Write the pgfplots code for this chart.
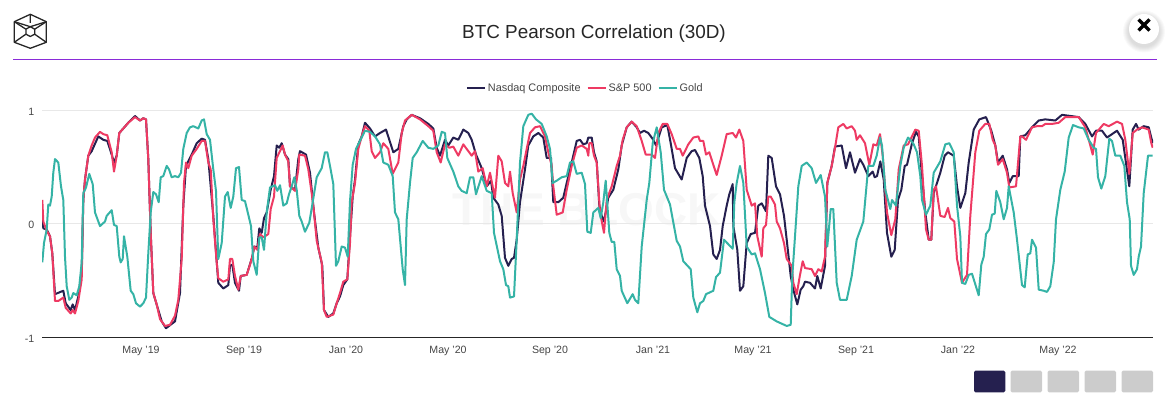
\documentclass[border=0pt]{standalone}
\usepackage{pgfplots}
\usepackage{pgfplotstable}
\usepackage{fontspec}
\setmainfont{Liberation Sans}
\pgfplotsset{compat=1.18}
\definecolor{navy}{HTML}{25204F}
\definecolor{spred}{HTML}{EE3A63}
\definecolor{goldt}{HTML}{35B3A6}
\definecolor{gridc}{HTML}{E8E8E8}
\definecolor{txt}{HTML}{454545}
\definecolor{purp}{HTML}{8A2BD8}
\definecolor{btn}{HTML}{CCCCCC}
\definecolor{wm}{HTML}{F7F7F7}
\pgfplotstableread{
x y
42.3 0.10
43.3 -0.04
46.7 -0.05
50 -0.11
52.3 -0.26
55 -0.62
63.3 -0.59
65.7 -0.70
70.7 -0.76
72.7 -0.71
75 -0.76
78.3 -0.64
81.7 -0.43
83.3 0.21
85 0.39
88.3 0.60
91.7 0.64
98.3 0.77
103.3 0.74
107.3 0.73
111.7 0.61
114 0.54
116.7 0.60
119.3 0.80
123.3 0.84
128.3 0.89
135 0.95
140 0.91
143.3 0.93
146 0.92
148.3 0.57
150.7 -0.08
153.3 -0.61
158.3 -0.76
161.7 -0.86
166 -0.92
175 -0.86
180 -0.61
183.3 0.16
186 0.51
191.7 0.61
196.7 0.71
201.7 0.75
205 0.74
208.3 0.57
213.3 0.07
218.3 -0.52
223.3 -0.57
228.3 -0.54
230 -0.37
232.3 -0.36
235 -0.52
239 -0.59
240.7 -0.46
246.7 -0.45
252.3 -0.29
254.3 -0.20
257.3 -0.21
259.3 -0.04
261.7 -0.08
264 0.05
266.7 0.10
270.7 0.30
274 0.42
276.7 0.69
279.3 0.67
281.7 0.71
285 0.61
288.3 0.57
290 0.33
295 0.30
298.3 0.57
300 0.64
306 0.61
310 0.45
314 0.10
318.3 -0.21
322.3 -0.37
324 -0.76
328.3 -0.82
333.3 -0.79
336.7 -0.70
340 -0.64
343.3 -0.54
347.3 -0.49
350 -0.11
352.7 0.24
355 0.39
358.3 0.70
361.7 0.77
365 0.89
370 0.84
375 0.77
380 0.80
386 0.83
389.3 0.74
393.3 0.63
398.3 0.66
403.3 0.86
406.7 0.92
411.7 0.96
420 0.93
428.3 0.88
433.3 0.84
436.7 0.67
440 0.60
445 0.74
448.3 0.69
453.3 0.76
458.3 0.74
463.3 0.83
468.3 0.80
471.7 0.74
476 0.61
481.7 0.49
486.7 0.33
491 0.38
493.3 0.23
498.3 0.17
501.7 0.07
505 -0.30
508.3 -0.37
511.7 -0.31
514 -0.30
516.7 -0.14
520 0.19
525 0.48
528.3 0.69
533.3 0.77
538.3 0.80
543.3 0.76
546.7 0.58
551 0.58
553.3 0.19
558.3 0.19
563.3 0.23
566.7 0.36
571.7 0.54
576.7 0.73
580 0.74
583.3 0.70
586.7 0.71
588.3 0.76
591.7 0.76
594 0.63
596.7 0.55
599.3 0.16
601.7 0.07
604 0.02
608.3 0.23
613.3 0.30
618.3 0.48
621.7 0.69
626.7 0.85
631.7 0.90
636.7 0.85
640 0.80
644 0.82
648.3 0.80
653.3 0.74
656 0.69
661.7 0.85
667.3 0.87
670.7 0.71
675 0.49
681.7 0.39
686.7 0.58
691.7 0.64
695 0.65
699.3 0.58
702.7 0.42
705 0.16
710 -0.02
713.3 -0.27
716.7 -0.31
720 -0.23
722.7 -0.02
726.7 0.16
729.3 0.26
732.7 0.35
733.3 -0.02
737.3 -0.23
740 -0.59
743.3 -0.55
746.7 -0.17
750.7 -0.09
755 -0.08
758.3 0.16
761.7 0.18
766 0.11
768.3 0.60
771.7 0.58
776 0.33
780 0.26
784 0.07
786.7 -0.14
790.7 -0.46
793.3 -0.58
797.3 -0.71
800.7 -0.58
803.3 -0.55
805 -0.51
810 -0.52
815 -0.57
817.3 -0.46
820.7 -0.57
825 -0.37
827.3 0.36
831.7 0.51
835 0.68
841.7 0.69
846 0.49
850 0.63
855 0.45
860 0.57
863.3 0.52
868.3 0.42
872.7 0.46
874.7 0.41
877 0.42
880.3 0.55
883.7 0.39
887 -0.08
891.3 -0.29
894.7 -0.23
898 0.21
901.3 0.30
904.7 0.51
907 0.52
912 0.71
916 0.81
918.7 0.77
922 0.42
925.3 0.10
928.7 -0.14
931.3 -0.14
933.7 0.27
937 0.36
940.3 0.45
944.7 0.60
948 0.63
953.7 0.60
957 0.33
960.3 0.14
965.3 0.27
968.7 0.54
973.7 0.83
979.3 0.92
986 0.94
991.3 0.82
995.3 0.69
998 0.54
1002.7 0.60
1007 0.48
1009.3 0.36
1012.7 0.42
1018.7 0.42
1020.3 0.77
1025.3 0.78
1032 0.85
1038.7 0.91
1045.3 0.92
1055.3 0.91
1062 0.96
1078.7 0.94
1085.3 0.88
1092 0.77
1096 0.82
1102 0.82
1107 0.76
1117 0.82
1122.7 0.74
1129.3 0.33
1132.7 0.83
1136 0.88
1138.7 0.83
1143.7 0.86
1148.7 0.85
1152.7 0.71
}\nasdaq
\pgfplotstableread{
x y
42.3 0.21
43.3 0.02
46.7 -0.06
50 -0.11
52.3 -0.26
55 -0.68
58.3 -0.68
63.3 -0.65
65.7 -0.74
70.7 -0.79
72.7 -0.76
75 -0.79
78.3 -0.68
81.7 -0.49
83.3 0.21
85 0.39
88.3 0.60
91.7 0.69
95 0.76
100 0.81
103.3 0.79
107.3 0.78
111.7 0.63
114 0.46
116.7 0.60
119.3 0.80
123.3 0.84
128.3 0.89
135 0.94
140 0.91
143.3 0.93
146 0.92
148.3 0.57
150.7 -0.08
153.3 -0.61
156.7 -0.71
160 -0.84
165 -0.90
170 -0.89
175 -0.81
178.3 -0.67
181.7 -0.31
184 0.36
186 0.54
188.3 0.49
191.7 0.60
196.7 0.66
201.7 0.73
205 0.73
208.3 0.54
210.7 0.48
213.3 0.04
216.7 -0.34
218.3 -0.48
223.3 -0.51
228.3 -0.49
230 -0.31
232.3 -0.31
235 -0.46
238.3 -0.58
240.7 -0.46
246.7 -0.45
250 -0.36
252.3 -0.29
254.3 -0.20
257.3 -0.23
260 -0.09
263.3 -0.12
268.3 -0.09
270.7 0.13
274 0.24
276.7 0.58
282.7 0.69
285 0.61
288.3 0.55
290 0.33
295 0.29
298.3 0.48
299.3 0.61
305 0.60
308.3 0.48
311.7 0.27
314 0.10
316.7 -0.15
321.7 -0.34
324 -0.76
326.7 -0.82
333.3 -0.80
336.7 -0.70
340 -0.61
343.3 -0.51
347.3 -0.49
350 -0.17
351.7 0.19
355 0.36
358.3 0.66
361.7 0.77
365 0.86
369.3 0.82
371.7 0.64
375 0.58
380 0.63
383.3 0.71
388.3 0.66
392.7 0.44
398.3 0.54
401.7 0.80
405 0.91
411.7 0.96
420 0.92
428.3 0.86
433.3 0.82
436.7 0.63
440.7 0.54
445 0.70
449.3 0.67
453.3 0.68
458.3 0.60
463.3 0.70
468.3 0.64
471.7 0.60
475 0.64
478.3 0.46
482.7 0.49
486.7 0.33
490 0.45
493.3 0.30
495 0.23
498.3 0.60
501.7 0.55
505 0.36
508.3 0.33
510 0.46
512.7 0.27
516.7 0.10
520 0.39
523.3 0.51
526.7 0.66
530 0.80
535 0.85
540 0.86
545 0.77
548.3 0.63
551.7 0.51
553.3 0.33
556.7 0.08
562.7 0.10
566.7 0.30
571.7 0.51
576.7 0.67
581.7 0.69
586.7 0.66
588.3 0.60
589.3 0.71
591.7 0.71
594 0.60
596.7 0.54
600 0.10
604 -0.08
606.7 0.21
611.7 0.33
616.7 0.51
620 0.60
622.7 0.74
626.7 0.85
631.7 0.90
636.7 0.86
641.7 0.73
645.7 0.61
651.7 0.61
655 0.58
658.3 0.80
662.7 0.88
667.3 0.88
671.7 0.79
676.7 0.66
680 0.66
682.7 0.60
688.3 0.70
693.3 0.76
698.3 0.77
700 0.73
703.3 0.73
706 0.61
709.3 0.63
713.3 0.52
716.7 0.43
721.7 0.60
726.7 0.79
732.7 0.80
736 0.76
739.3 0.83
743.3 0.73
746.7 0.30
751.7 0.16
755 0.18
757.3 -0.11
761.7 -0.29
763.3 -0.04
766 -0.01
768.3 0.24
770.7 0.24
775 0.17
776.7 0.02
780 -0.04
784 -0.17
786.7 -0.31
791.7 -0.37
793.3 -0.52
796.7 -0.62
800 -0.45
802.7 -0.33
805 -0.39
811.7 -0.40
815 -0.46
818.3 -0.40
821.7 -0.42
825 -0.29
827.3 0.36
831.7 0.51
835 0.67
838.3 0.85
843.3 0.88
846.7 0.84
851.7 0.86
855 0.82
856.7 0.74
860 0.78
865 0.71
869.3 0.52
873.3 0.70
876.7 0.69
880 0.79
882.7 0.60
887 0.10
891.3 -0.10
895.3 0.04
898.7 0.48
903.7 0.69
908 0.70
912 0.77
915.3 0.83
918.7 0.82
922 0.51
926 -0.05
928.7 -0.14
931.3 -0.14
933.7 0.30
936 0.33
940.3 0.07
944.7 0.06
948 0.14
950.3 0.05
954.3 0.02
957 -0.31
962 -0.52
967 -0.45
970.3 0.07
975.3 0.63
979.3 0.82
985.3 0.88
989.3 0.88
992.7 0.74
995.3 0.69
998 0.52
1002.7 0.57
1007 0.45
1009.3 0.32
1016 0.33
1020.3 0.77
1022 0.77
1026 0.74
1032 0.85
1037 0.86
1042 0.86
1045.3 0.88
1052 0.88
1058.7 0.89
1065.3 0.94
1078.7 0.94
1085.3 0.85
1090.3 0.69
1092.7 0.61
1096 0.80
1103.7 0.88
1108.7 0.86
1117 0.90
1122 0.88
1125.3 0.74
1129.3 0.44
1132.7 0.80
1137 0.83
1142 0.85
1148.7 0.83
1151.3 0.71
1152.7 0.67
}\spx
\pgfplotstableread{
x y
42.3 -0.34
44 -0.17
46.7 -0.05
48.3 0.17
50 0.16
51.7 0.24
53.3 0.45
55 0.57
58.3 0.54
61 0.33
63.3 0.21
65 -0.29
66.7 -0.55
69.3 -0.67
71.7 -0.65
73.3 -0.61
76.7 -0.63
79.3 -0.55
81.7 -0.34
83.3 0.27
86 0.32
89.3 0.44
92.7 0.35
95 0.10
100 -0.02
105 0.02
106.7 0.07
111.7 0.12
114 -0.01
116.7 -0.02
119.3 -0.29
120.7 -0.34
122.7 -0.31
124 -0.11
127.3 -0.29
130.7 -0.59
133.3 -0.62
136 -0.70
140 -0.73
143.3 -0.70
146 -0.65
148.3 -0.26
150.7 0.10
153.3 0.28
156 0.26
158.7 0.19
160.7 0.41
163.3 0.42
166.7 0.51
169 0.48
171.7 0.41
175 0.42
178.3 0.41
181 0.45
183.3 0.66
186.7 0.80
190 0.85
193.3 0.86
198.3 0.84
201.7 0.91
204 0.92
206.7 0.79
210 0.74
213.3 0.48
216 0.29
218.3 -0.31
221.7 -0.17
225 0.24
227.7 0.28
230.7 0.14
233.3 0.24
236 0.49
239 0.50
241.7 0.21
245 0.20
248.3 0.08
251 -0.02
253.3 -0.33
256.7 -0.45
259.3 -0.12
261.7 -0.12
264 -0.23
266.7 0.10
270 0.32
275 0.34
277.3 0.29
280 0.34
283.3 0.16
286.7 0.18
289 0.26
291.7 0.33
294.3 0.41
296.7 0.30
299.3 0.07
301.7 0.02
305 -0.07
309.3 0.01
312.7 0.19
316.7 0.41
321.7 0.49
325 0.63
327.3 0.63
330 0.51
333.3 0.35
336 -0.37
338.3 -0.33
341.7 -0.20
345 -0.21
347.7 -0.29
350 0.20
352.7 0.52
356 0.66
360 0.73
365 0.82
370 0.81
375 0.77
380 0.70
383.3 0.54
388.3 0.52
392.7 0.42
395 0.10
398.3 0.04
402.7 -0.40
405 -0.54
406.7 0.04
410 0.36
412.7 0.58
416.7 0.63
422.7 0.73
428.3 0.67
433.3 0.66
438.3 0.69
441.7 0.81
445 0.80
447.3 0.58
453.3 0.46
458.3 0.33
461.7 0.29
466.7 0.27
470 0.41
473.3 0.41
476 0.26
481.7 0.42
486.7 0.29
491.7 0.27
494 -0.08
500 -0.33
503.3 -0.40
506 -0.54
508.3 -0.55
510 -0.65
514 -0.64
516.7 -0.14
520 0.54
523.3 0.86
528.3 0.96
531.7 0.97
536 0.92
541.7 0.88
546.7 0.77
550 0.66
552.7 0.36
556.7 0.38
561.7 0.41
566.7 0.42
570 0.54
573.3 0.55
576.7 0.44
581.7 0.45
585 0.35
587.3 -0.07
590.7 -0.08
593.3 0.10
598.3 0.14
600.7 0.05
603.3 0.19
605.7 0.38
609.3 -0.08
611.7 -0.16
614.3 -0.16
616.7 -0.40
620 -0.46
621.7 -0.59
627.3 -0.70
632.7 -0.62
635 -0.67
638.3 -0.70
641.7 -0.20
646.7 0.21
649.3 0.36
652.7 0.71
656.7 0.85
660.7 0.63
664 0.30
670 0.17
676.7 -0.15
680 -0.20
683.3 -0.33
690.7 -0.40
693.3 -0.65
697.3 -0.78
700 -0.70
703.3 -0.68
706 -0.62
713.3 -0.59
716 -0.47
720 -0.43
724 -0.14
728.3 -0.18
732.7 -0.22
734.3 0.19
736.7 0.36
740 0.51
743.3 0.36
746.7 -0.20
751.7 -0.27
755 -0.26
760 -0.40
765 -0.61
769.3 -0.82
776.7 -0.86
786.7 -0.90
790.7 -0.89
792.3 -0.46
795 -0.11
798.3 0.33
801.7 0.51
806.7 0.54
811.7 0.49
816 0.36
820.7 0.43
825 0.24
827.3 -0.20
830.7 0.13
833.3 0.13
836.7 -0.52
840 -0.67
846.7 -0.67
851.7 -0.46
856.7 -0.14
863.3 0.02
868.3 0.51
873.3 0.51
876.7 0.60
880 0.76
882 0.69
885.3 0.30
890.3 0.13
892 0.21
896 0.16
900.3 0.51
903.7 0.67
908 0.76
910.3 0.74
913.7 0.70
917 0.63
920.3 0.42
922 0.21
926 0.08
930.3 0.16
933.7 0.45
940.3 0.55
945.3 0.70
949.3 0.71
953.7 0.63
957 0.16
960.3 -0.11
962 -0.52
965.3 -0.53
968.7 -0.45
972 -0.44
978.7 -0.63
981.3 -0.36
983.7 -0.29
986 -0.09
989.3 -0.05
992 0.08
994.7 0.09
996.3 0.29
1000.3 0.19
1003.7 0.04
1007 0.14
1008.7 0.33
1013.7 0.10
1017 -0.14
1022 -0.54
1024.7 -0.56
1027.7 -0.27
1030.3 -0.26
1032 -0.14
1036 -0.21
1038.7 -0.58
1043.7 -0.59
1047 -0.60
1050.3 -0.55
1053.7 -0.34
1056 0.04
1060.3 0.30
1064.7 0.46
1068.7 0.76
1073 0.87
1078.7 0.85
1083.7 0.84
1088.7 0.74
1093.7 0.67
1096 0.66
1098 0.41
1101.3 0.31
1105.3 0.42
1109.3 0.75
1112 0.73
1115.3 0.60
1120.3 0.60
1124.3 0.51
1127 0.19
1129.7 0.04
1131 -0.37
1133.7 -0.45
1137 -0.40
1138.7 -0.29
1141 -0.20
1143.7 0.27
1148 0.60
1152.7 0.60
}\gold
\begin{document}
\begin{tikzpicture}[x=1pt,y=1pt]
\useasboundingbox (0,0) rectangle (1172,403);
% watermark
\node[text=wm,font=\fontsize{46}{50}\selectfont\bfseries,anchor=center] at (587,193) {THE BLOCK};
% header
\node[text=black!85,font=\fontsize{18.9}{22}\selectfont,anchor=center] at (594,369.5) {BTC Pearson Correlation (30D)};
\draw[purp,line width=1pt] (13,343.7) -- (1157,343.7);
% logo
\begin{scope}[draw=black!85,line width=1.3pt,line join=round]
\draw (30.3,388.7) -- (46.3,381.3) -- (46.3,360.7) -- (30.3,354.7) -- (14.3,360.7) -- (14.3,381.3) -- cycle;
\draw (30.3,376.3) -- (34.7,373.8) -- (34.7,368.8) -- (30.3,366.5) -- (25.9,368.8) -- (25.9,373.8) -- cycle;
\draw (30.3,388.7) -- (30.3,380) (14.3,381.3) -- (30.3,376.3) -- (46.3,381.3);
\draw (14.3,360.7) -- (25.9,368.8) (46.3,360.7) -- (34.7,368.8) (25.9,373.8) -- (14.3,381.3) (34.7,373.8) -- (46.3,381.3);
\end{scope}
% close button
\foreach \r in {21,20,19,18,17,16}{\fill[black,opacity=0.022] (1144,371.5) circle (\r);}
\fill[white] (1144,374) circle (15);
\draw[black,line width=3.4pt] (1138.5,383.5) -- (1149.5,372.5) (1138.5,372.5) -- (1149.5,383.5);
% range buttons
\fill[navy,rounded corners=1.5pt] (974,10.7) rectangle (1005.3,32.3);
\foreach \a in {1010.5,1047.5,1084.5,1121.5}{\fill[btn,rounded corners=1.5pt] (\a,10.7) rectangle (\a+31.6,32.3);}
\begin{axis}[
  at={(42pt,65.7pt)},anchor=south west,
  scale only axis,width=1111pt,height=227pt,
  xmin=42,xmax=1153,ymin=-1,ymax=1,
  axis x line=bottom,axis y line=left,
  axis line style={-},
  x axis line style={draw=black!85,line width=1pt},
  y axis line style={draw=none},
  major tick style={draw=none},
  ymajorgrids,grid style={gridc,line width=0.8pt},
  xtick={141,244,346,448,550,653,753,856,958,1058},
  xticklabels={May '19,Sep '19,Jan '20,May '20,Sep '20,Jan '21,May '21,Sep '21,Jan '22,May '22},
  ytick={-1,0,1},
  yticklabels={-1,0,1},
  tick label style={font=\fontsize{10.6}{12}\selectfont,text=txt},
  xticklabel style={yshift=-3pt},
  yticklabel style={yshift=-1.5pt,xshift=-2pt},
  legend columns=3,
  legend style={at={(0.489,1.098)},anchor=center,draw=none,fill=none,
    font=\fontsize{10.9}{12}\selectfont,text=txt,
    /tikz/every even column/.style={column sep=4pt}},
  legend image code/.code={\draw[#1,line width=2pt] (0pt,0pt) -- (18pt,0pt);},
  every axis plot/.append style={line width=2pt,line join=round},
]
\addplot[navy] table[x=x,y=y] {\nasdaq};
\addplot[spred] table[x=x,y=y] {\spx};
\addplot[goldt] table[x=x,y=y] {\gold};
\legend{Nasdaq Composite,S\&P 500,Gold}
\end{axis}
\end{tikzpicture}
\end{document}
